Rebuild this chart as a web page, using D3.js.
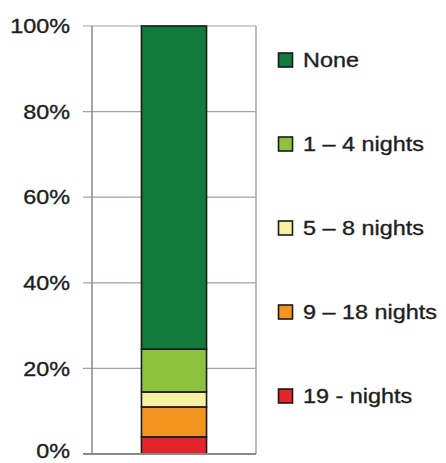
<!DOCTYPE html>
<html>
<head>
<meta charset="utf-8">
<script src="https://cdn.jsdelivr.net/npm/d3@7"></script>
<style>
  html, body { margin: 0; padding: 0; background: #fff; }
  svg { display: block; }
  text { font-family: "Liberation Sans", Arial, Helvetica, sans-serif; fill: #1e1e1e; stroke: #1e1e1e; stroke-width: 0.35px; }
</style>
</head>
<body>
<svg id="chart" width="446" height="463"></svg>
<script>
// Share of respondents by number of nights (stacked, bottom to top)
const categories = ["19 - nights", "9 – 18 nights", "5 – 8 nights", "1 – 4 nights", "None"];
const values = [4, 7, 3.5, 10, 75.5];
const colors = ["#e3262b", "#f39420", "#f8f0a2", "#8dc23f", "#137a3d"];
const tickValues = [0, 20, 40, 60, 80, 100];
const tickLabels = ["0%", "20%", "40%", "60%", "80%", "100%"];
const legendOrder = ["None", "1 – 4 nights", "5 – 8 nights", "9 – 18 nights", "19 - nights"];

const svg = d3.select("#chart");
const plot = { left: 92, right: 256, top: 26, bottom: 454 };
const xStretch = 1.17; // labels are set in a wide face

const y = d3.scaleLinear().domain([0, 100]).range([plot.bottom, plot.top]);
const x = d3.scaleBand().domain(["all"]).range([plot.left, plot.right]).paddingInner(0).paddingOuter(0.76);

// gridlines
svg.append("g").selectAll("line").data(tickValues.filter(d => d > 0)).join("line")
  .attr("x1", plot.left - 9).attr("x2", plot.right)
  .attr("y1", d => y(d)).attr("y2", d => y(d))
  .attr("stroke", "#a8a2a2").attr("stroke-width", 1.2);

// frame: left axis, right edge
svg.append("line").attr("x1", plot.left).attr("x2", plot.left)
  .attr("y1", plot.top).attr("y2", plot.bottom).attr("stroke", "#8f8888").attr("stroke-width", 1.5);
svg.append("line").attr("x1", plot.right).attr("x2", plot.right)
  .attr("y1", plot.top).attr("y2", plot.bottom).attr("stroke", "#a8a2a2").attr("stroke-width", 1.5);

// stacked bar
const stacked = [];
let acc = 0;
values.forEach((v, i) => { stacked.push({ cat: categories[i], y0: acc, y1: acc + v, color: colors[i] }); acc += v; });

svg.append("g").selectAll("rect").data(stacked).join("rect")
  .attr("x", x("all"))
  .attr("width", x.bandwidth())
  .attr("y", d => y(d.y1))
  .attr("height", d => y(d.y0) - y(d.y1))
  .attr("fill", d => d.color)
  .attr("stroke", "#1a1a1a").attr("stroke-width", 1.6);

// bottom axis line
svg.append("line").attr("x1", plot.left - 9).attr("x2", plot.right)
  .attr("y1", plot.bottom).attr("y2", plot.bottom).attr("stroke", "#8f8888").attr("stroke-width", 1.8);

// y tick labels (lowest one nudged up to stay inside the frame)
svg.append("g").selectAll("text").data(tickValues).join("text")
  .attr("transform", d => `translate(70,${y(d) - (d === 0 ? 3 : 0)}) scale(${xStretch},1)`)
  .attr("text-anchor", "end").attr("dy", "0.36em")
  .style("font-size", "20px")
  .text((d, i) => tickLabels[i]);

// legend
const colorOf = d3.scaleOrdinal().domain(categories).range(colors);
const legendY = d3.scalePoint().domain(legendOrder).range([60, 396]);
const lg = svg.append("g").selectAll("g").data(legendOrder).join("g")
  .attr("transform", d => `translate(278,${legendY(d)})`);
lg.append("rect").attr("x", 0.5).attr("y", -7).attr("width", 14).attr("height", 14)
  .attr("fill", d => colorOf(d)).attr("stroke", "#1a1a1a").attr("stroke-width", 1.6);
lg.append("text")
  .attr("transform", `translate(25,0) scale(${xStretch},1)`)
  .attr("dy", "0.36em").style("font-size", "20px")
  .text(d => d);
</script>
</body>
</html>
